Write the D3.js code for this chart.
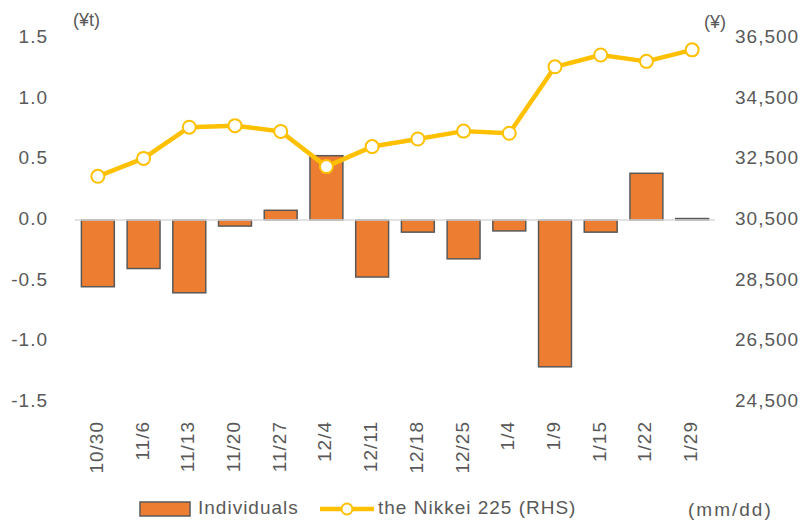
<!DOCTYPE html>
<html><head><meta charset="utf-8">
<script src="https://cdn.jsdelivr.net/npm/d3@7"></script>
<style>body{margin:0;background:#fff}svg{display:block}text{font-family:"Liberation Sans",Arial,sans-serif;fill:#595959}</style>
</head><body>
<script>
const categories = ["10/30","11/6","11/13","11/20","11/27","12/4","12/11","12/18","12/25","1/4","1/9","1/15","1/22","1/29"];
const individuals = [-0.55,-0.40,-0.60,-0.05,0.08,0.53,-0.47,-0.10,-0.32,-0.09,-1.21,-0.10,0.385,0.012];
const nikkei = [31940,32530,33560,33610,33420,32260,32920,33170,33430,33360,35550,35940,35730,36110];
const leftTicks = [1.5,1.0,0.5,0.0,-0.5,-1.0,-1.5];
const rightTicks = [36500,34500,32500,30500,28500,26500,24500];

const W = 803, H = 529;
const svg = d3.select("body").append("svg").attr("width", W).attr("height", H);

const x = d3.scaleBand().domain(categories).range([75, 715]).paddingInner(0.28).paddingOuter(0.14);
const yL = d3.scaleLinear().domain([-1.5, 1.5]).range([402, 38]);
const yR = d3.scaleLinear().domain([24500, 36500]).range([402, 38]);

// left tick labels
svg.append("g").selectAll("text").data(leftTicks).join("text")
  .attr("x", 48).attr("y", d => yL(d)).attr("text-anchor", "end").attr("dominant-baseline", "middle")
  .style("font-size", "19px").style("letter-spacing", "1px")
  .text(d => d3.format(".1f")(d).replace("−", "-"));

// right tick labels
svg.append("g").selectAll("text").data(rightTicks).join("text")
  .attr("x", 735).attr("y", d => yR(d)).attr("dominant-baseline", "middle")
  .style("font-size", "19px").style("letter-spacing", "1px")
  .text(d => d3.format(",")(d));

// units
svg.append("text").attr("x", 73).attr("y", 21).attr("dominant-baseline", "middle").style("font-size", "18px").text("(¥t)");
svg.append("text").attr("x", 704).attr("y", 23).attr("dominant-baseline", "middle").style("font-size", "18px").text("(¥)");

// bars
svg.append("g").selectAll("rect").data(categories).join("rect")
  .attr("x", d => x(d))
  .attr("width", x.bandwidth())
  .attr("y", (d, i) => Math.min(yL(individuals[i]), yL(0)))
  .attr("height", (d, i) => Math.abs(yL(individuals[i]) - yL(0)))
  .attr("fill", "#ED7D31").attr("stroke", "#595959").attr("stroke-width", 1.5);

// zero line
svg.append("line").attr("x1", 75).attr("x2", 715).attr("y1", yL(0)).attr("y2", yL(0))
  .attr("stroke", "#d9d9d9").attr("stroke-width", 1.5);

// line
const line = d3.line().x((d, i) => x(categories[i]) + x.bandwidth() / 2).y(d => yR(d));
svg.append("path").datum(nikkei).attr("d", line).attr("fill", "none")
  .attr("stroke", "#FFC000").attr("stroke-width", 4.5).attr("stroke-linejoin", "round");
svg.append("g").selectAll("circle").data(nikkei).join("circle")
  .attr("cx", (d, i) => x(categories[i]) + x.bandwidth() / 2).attr("cy", d => yR(d)).attr("r", 6.5)
  .attr("fill", "#fff").attr("stroke", "#FFC000").attr("stroke-width", 2);

// x labels
svg.append("g").selectAll("text").data(categories).join("text")
  .attr("transform", d => `translate(${x(d) + x.bandwidth() / 2},421) rotate(-90)`)
  .attr("text-anchor", "end").attr("dominant-baseline", "middle")
  .style("font-size", "19px").style("letter-spacing", "1px")
  .text(d => d);

// legend
const lg = svg.append("g");
lg.append("rect").attr("x", 140).attr("y", 502).attr("width", 50).attr("height", 14)
  .attr("fill", "#ED7D31").attr("stroke", "#595959").attr("stroke-width", 1.5);
lg.append("text").attr("x", 198).attr("y", 509).attr("dominant-baseline", "middle")
  .style("font-size", "19px").style("letter-spacing", "1px").text("Individuals");
lg.append("line").attr("x1", 320).attr("x2", 374).attr("y1", 509).attr("y2", 509)
  .attr("stroke", "#FFC000").attr("stroke-width", 4.5);
lg.append("circle").attr("cx", 347).attr("cy", 509).attr("r", 5.5)
  .attr("fill", "#fff").attr("stroke", "#FFC000").attr("stroke-width", 2);
lg.append("text").attr("x", 378).attr("y", 509).attr("dominant-baseline", "middle")
  .style("font-size", "19px").style("letter-spacing", "1px").text("the Nikkei 225 (RHS)");
lg.append("text").attr("x", 688).attr("y", 511).attr("dominant-baseline", "middle")
  .style("font-size", "19px").style("letter-spacing", "2px").text("(mm/dd)");
</script>
</body></html>
